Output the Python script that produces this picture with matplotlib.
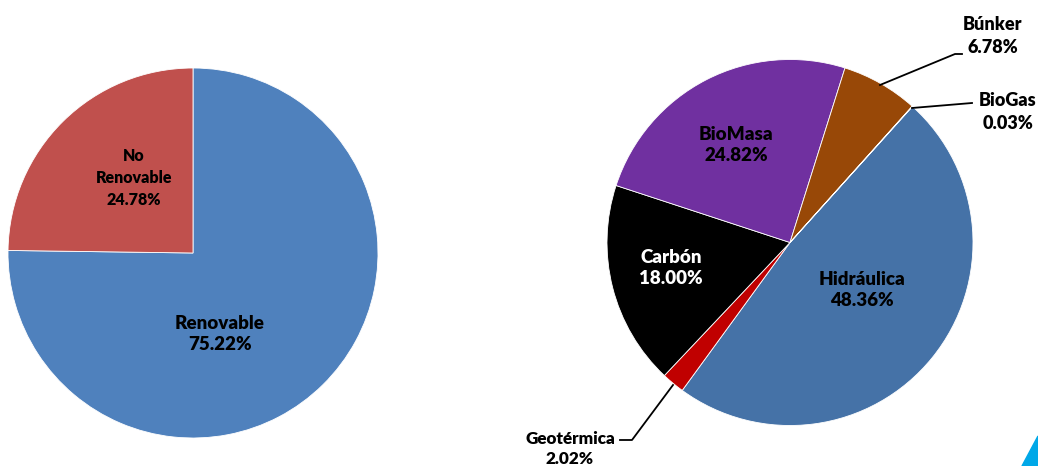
import matplotlib
matplotlib.use("Agg")
import matplotlib.pyplot as plt
from matplotlib.patches import Polygon

plt.rcParams['font.family'] = ['Lato', 'DejaVu Sans']

# Data
left_labels = ["Renovable", "No\nRenovable"]
left_values = [75.22, 24.78]
left_colors = ["#4F81BD", "#C0504D"]

right_labels = ["Hidráulica", "Geotérmica", "Carbón", "BioMasa", "Búnker", "BioGas"]
right_values = [48.36, 2.02, 18.00, 24.82, 6.78, 0.03]
right_colors = ["#4572A7", "#C00000", "#000000", "#7030A0", "#984807", "#4F81BD"]

W, H = 1038, 466
fig = plt.figure(figsize=(W / 100, H / 100), dpi=100)
ax = fig.add_axes([0, 0, 1, 1])

def Y(y):
    return H - y

ax.pie(left_values, colors=left_colors, startangle=90, counterclock=False,
       center=(193, Y(253)), radius=185,
       wedgeprops=dict(edgecolor='white', linewidth=0.6))
ax.pie(right_values, colors=right_colors, startangle=48, counterclock=False,
       center=(790, Y(242.5)), radius=183,
       wedgeprops=dict(edgecolor='white', linewidth=0.6))

ax.set_xlim(0, W)
ax.set_ylim(0, H)
ax.set_aspect('auto')
ax.axis('off')

def lab(x, y, txt, color='black', fs=13.5, ls=1.3):
    ax.text(x, Y(y), txt, ha='center', va='center', fontsize=fs, fontweight='heavy',
            color=color, linespacing=ls)

lab(220, 334, f"{left_labels[0]}\n{left_values[0]:.2f}%", ls=1.35)
lab(134, 178, f"{left_labels[1]}\n{left_values[1]:.2f}%", fs=11.5, ls=1.45)

lab(862, 290, f"{right_labels[0]}\n{right_values[0]:.2f}%", ls=1.35)
lab(671, 268, f"{right_labels[2]}\n{right_values[2]:.2f}%", color='white', ls=1.35)
lab(736, 145, f"{right_labels[3]}\n{right_values[3]:.2f}%", ls=1.35)
lab(993, 36, f"{right_labels[4]}\n{right_values[4]:.2f}%", fs=13, ls=1.4)
lab(1008, 112, f"{right_labels[5]}\n{right_values[5]:.2f}%", fs=13, ls=1.4)
lab(570, 449, f"{right_labels[1]}\n{right_values[1]:.2f}%", fs=12.3, ls=1.3)

# leader lines
ax.plot([880, 955, 962], [Y(85), Y(54), Y(54)], color='black', lw=1.3)
ax.plot([912, 972], [Y(108), Y(103)], color='black', lw=1.3)
ax.plot([673, 632, 620], [Y(385), Y(440), Y(440)], color='black', lw=1.3)

# corner decoration
fig.patches.append(Polygon([[1022 / W, 0], [1, 30 / H], [1, 0]], closed=True,
                           transform=fig.transFigure, color='#00A8E8'))

fig.savefig("out.png", dpi=100)
